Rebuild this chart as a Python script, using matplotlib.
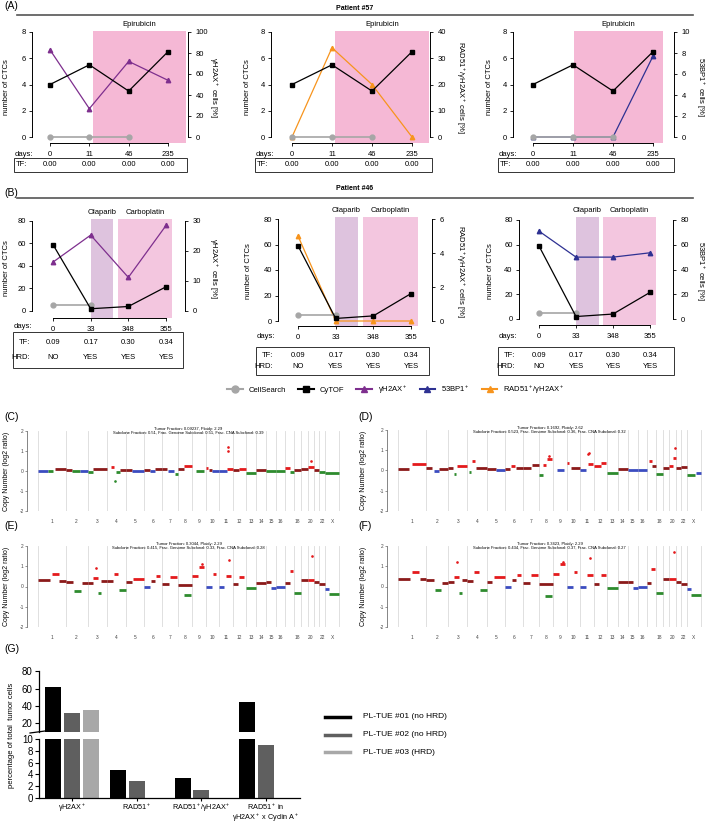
import matplotlib
matplotlib.use('Agg')
import matplotlib.pyplot as plt
from matplotlib.lines import Line2D
from matplotlib.patches import Rectangle
import numpy as np

plt.rcParams['font.family'] = ['Liberation Sans', 'DejaVu Sans']
plt.rcParams['mathtext.fontset'] = 'custom'
plt.rcParams['mathtext.rm'] = 'Liberation Sans'
plt.rcParams['mathtext.it'] = 'Liberation Sans:italic'
plt.rcParams['mathtext.bf'] = 'Liberation Sans:bold'
plt.rcParams['axes.linewidth'] = 0.7

# ---- panel A / B data (patient #57 and #46) ----
days_57 = ['0', '11', '46', '235']
ctc_57 = [4, 5.5, 3.5, 6.5]
cellsearch_57 = [0, 0, 0]
gh2ax_57 = [83, 27, 72, 54]
rad51_57 = [0, 34, 20, 0]
bp53_57 = [0, 0, 0, 7.7]
tf_57 = ['0.00', '0.00', '0.00', '0.00']

days_46 = ['0', '33', '348', '355']
ctc_46 = [59, 2, 4, 21.5]
cellsearch_46 = [5, 5]
gh2ax_46 = [16.3, 25.3, 11.2, 28.5]
rad51_46 = [5.0, 0, 0, 0]
bp53_46 = [71, 50, 50, 53.5]
tf_46 = ['0.09', '0.17', '0.30', '0.34']
hrd_46 = ['NO', 'YES', 'YES', 'YES']

# ---- copy number panels (C-F): segments (chrom, start frac, end frac, log2, state) ----
chrom_edges = [0, 83, 150, 208, 266, 320, 375, 423, 465, 506, 545, 588, 626,
               658, 688, 718, 746, 773, 793, 813, 833, 848, 866, 908]
chrom_names = ['1', '2', '3', '4', '5', '6', '7', '8', '9', '10', '11', '12',
               '13', '14', '15', '16', '', '18', '', '20', '', '22', 'X']

seg_C = [(1, 0.0, 0.35, 0.0, 'N'), (1, 0.38, 0.55, 0.0, 'L'), (1, 0.6, 1.0, 0.1, 'G'),
         (2, 0.0, 0.3, 0.05, 'G'), (2, 0.3, 0.65, 0.0, 'L'), (2, 0.65, 1.0, -0.02, 'N'),
         (3, 0.0, 0.3, -0.05, 'L'), (3, 0.3, 1.0, 0.08, 'G'),
         (4, 0.2, 0.35, 0.2, 'A'), (4, 0.45, 0.7, -0.05, 'L'), (4, 0.7, 1.0, 0.05, 'G'),
         (5, 0.0, 0.3, 0.05, 'G'), (5, 0.3, 1.0, 0.0, 'N'),
         (6, 0.0, 0.3, 0.05, 'G'), (6, 0.3, 0.6, 0.0, 'N'), (6, 0.6, 1.0, 0.08, 'G'),
         (7, 0.0, 0.3, 0.1, 'G'), (7, 0.35, 0.75, 0.0, 'N'), (7, 0.8, 1.0, -0.15, 'L'),
         (8, 0.0, 0.4, 0.1, 'G'), (8, 0.45, 1.0, 0.25, 'A'),
         (9, 0.3, 0.9, -0.02, 'L'),
         (10, 0.0, 0.2, 0.15, 'A'), (10, 0.25, 0.5, 0.05, 'G'), (10, 0.5, 1.0, 0.0, 'N'),
         (11, 0.0, 0.6, 0.0, 'N'), (11, 0.6, 1.0, 0.12, 'A'),
         (12, 0.0, 0.5, 0.05, 'G'), (12, 0.5, 1.0, 0.12, 'A'),
         (13, 0.0, 1.0, -0.08, 'L'), (14, 0.0, 1.0, 0.03, 'G'),
         (15, 0.0, 1.0, -0.02, 'L'), (16, 0.0, 1.0, -0.02, 'L'),
         (17, 0.0, 0.5, 0.15, 'A'), (17, 0.5, 1.0, -0.05, 'L'),
         (18, 0.0, 1.0, 0.05, 'G'), (19, 0.0, 1.0, 0.08, 'G'),
         (20, 0.0, 1.0, 0.2, 'A'), (21, 0.0, 1.0, 0.05, 'G'),
         (22, 0.0, 1.0, -0.05, 'L'), (23, 0.0, 1.0, -0.1, 'L')]
out_C = [(11, 0.65, 1.0, 'A'), (11, 0.66, 1.2, 'A'), (20, 0.6, 0.5, 'A'), (4, 0.4, -0.5, 'L')]

seg_D = [(1, 0.0, 0.4, 0.08, 'G'), (1, 0.5, 1.0, 0.33, 'A'),
         (2, 0.0, 0.3, 0.1, 'G'), (2, 0.35, 0.6, -0.02, 'N'), (2, 0.6, 1.0, 0.08, 'G'),
         (3, 0.0, 0.25, 0.1, 'G'), (3, 0.3, 0.4, -0.15, 'L'), (3, 0.45, 1.0, 0.2, 'A'),
         (4, 0.1, 0.2, -0.05, 'L'), (4, 0.25, 0.4, 0.45, 'A'), (4, 0.45, 1.0, 0.1, 'G'),
         (5, 0.0, 0.5, 0.05, 'G'), (5, 0.5, 1.0, 0.0, 'N'),
         (6, 0.0, 0.3, 0.05, 'G'), (6, 0.35, 0.55, 0.2, 'A'), (6, 0.6, 1.0, 0.1, 'G'),
         (7, 0.0, 0.5, 0.1, 'G'), (7, 0.55, 1.0, 0.25, 'G'),
         (8, 0.0, 0.25, -0.2, 'L'), (8, 0.3, 0.5, 0.25, 'A'), (8, 0.55, 0.9, 0.55, 'A'),
         (9, 0.3, 0.8, 0.0, 'N'),
         (10, 0.0, 0.2, 0.35, 'A'), (10, 0.3, 1.0, 0.1, 'G'),
         (11, 0.0, 0.45, 0.0, 'N'), (11, 0.55, 0.95, 0.3, 'A'),
         (12, 0.0, 0.5, 0.2, 'A'), (12, 0.55, 0.95, 0.35, 'A'),
         (13, 0.0, 1.0, -0.1, 'L'), (14, 0.0, 1.0, 0.05, 'G'),
         (15, 0.0, 1.0, 0.0, 'N'), (16, 0.0, 1.0, 0.0, 'N'),
         (17, 0.2, 0.6, 0.45, 'A'), (17, 0.6, 1.0, 0.2, 'G'),
         (18, 0.0, 1.0, -0.15, 'L'), (19, 0.0, 1.0, 0.1, 'G'),
         (20, 0.0, 0.6, 0.2, 'A'), (20, 0.6, 1.0, 0.6, 'A'),
         (21, 0.0, 1.0, 0.1, 'G'), (22, 0.0, 1.0, 0.15, 'G'),
         (23, 0.0, 0.6, -0.2, 'L'), (23, 0.65, 1.0, -0.1, 'N')]
out_D = [(11, 0.6, 0.8, 'A'), (11, 0.65, 0.85, 'A'), (20, 0.8, 1.1, 'A'), (8, 0.7, 0.7, 'A')]

seg_E = [(1, 0.0, 0.45, 0.3, 'G'), (1, 0.5, 0.75, 0.6, 'A'), (1, 0.78, 1.0, 0.28, 'G'),
         (2, 0.0, 0.35, 0.22, 'G'), (2, 0.4, 0.7, -0.2, 'L'), (2, 0.72, 1.0, 0.15, 'G'),
         (3, 0.0, 0.3, 0.15, 'G'), (3, 0.3, 0.55, 0.4, 'A'), (3, 0.55, 0.7, -0.3, 'L'), (3, 0.7, 1.0, 0.25, 'G'),
         (4, 0.0, 0.3, 0.25, 'G'), (4, 0.35, 0.6, 0.6, 'A'), (4, 0.65, 1.0, -0.15, 'L'),
         (5, 0.0, 0.3, 0.2, 'G'), (5, 0.4, 1.0, 0.38, 'A'),
         (6, 0.0, 0.35, -0.03, 'N'), (6, 0.4, 0.6, 0.25, 'G'), (6, 0.65, 0.9, 0.5, 'A'),
         (7, 0.0, 0.4, 0.12, 'G'), (7, 0.5, 0.9, 0.48, 'A'),
         (8, 0.0, 1.0, 0.08, 'G'), (8, 0.4, 0.9, -0.4, 'L'),
         (9, 0.0, 0.4, 0.5, 'A'), (9, 0.5, 0.9, 0.95, 'A'),
         (10, 0.0, 0.5, 0.0, 'N'), (10, 0.55, 0.8, 0.6, 'A'),
         (11, 0.0, 0.4, 0.0, 'N'), (11, 0.5, 0.9, 0.5, 'A'),
         (12, 0.0, 0.4, 0.1, 'G'), (12, 0.5, 0.9, 0.45, 'A'),
         (13, 0.0, 1.0, -0.05, 'L'), (14, 0.0, 1.0, 0.15, 'G'),
         (15, 0.0, 0.5, 0.2, 'G'), (15, 0.5, 1.0, -0.05, 'N'), (16, 0.0, 1.0, 0.0, 'N'),
         (17, 0.0, 0.5, 0.15, 'G'), (17, 0.5, 0.9, 0.75, 'A'),
         (18, 0.0, 1.0, -0.3, 'L'), (19, 0.0, 1.0, 0.3, 'G'),
         (20, 0.0, 1.0, 0.3, 'A'), (21, 0.0, 1.0, 0.2, 'G'), (22, 0.0, 1.0, 0.1, 'G'),
         (23, 0.0, 0.3, -0.1, 'N'), (23, 0.3, 1.0, -0.35, 'L')]
out_E = [(3, 0.45, 0.9, 'A'), (11, 0.7, 1.3, 'A'), (20, 0.7, 1.5, 'A'), (9, 0.7, 1.1, 'A')]

seg_F = [(1, 0.0, 0.45, 0.35, 'G'), (1, 0.5, 0.75, 0.7, 'A'), (1, 0.78, 1.0, 0.35, 'G'),
         (2, 0.0, 0.35, 0.3, 'G'), (2, 0.4, 0.7, -0.15, 'L'), (2, 0.72, 1.0, 0.15, 'G'),
         (3, 0.0, 0.3, 0.2, 'G'), (3, 0.3, 0.55, 0.45, 'A'), (3, 0.55, 0.7, -0.3, 'L'), (3, 0.7, 1.0, 0.3, 'G'),
         (4, 0.0, 0.3, 0.25, 'G'), (4, 0.35, 0.6, 0.7, 'A'), (4, 0.65, 1.0, -0.15, 'L'),
         (5, 0.0, 0.3, 0.2, 'G'), (5, 0.4, 1.0, 0.45, 'A'),
         (6, 0.0, 0.35, -0.03, 'N'), (6, 0.4, 0.6, 0.3, 'G'), (6, 0.65, 0.9, 0.55, 'A'),
         (7, 0.0, 0.4, 0.15, 'G'), (7, 0.5, 0.9, 0.55, 'A'),
         (8, 0.0, 1.0, 0.1, 'G'), (8, 0.4, 0.9, -0.45, 'L'),
         (9, 0.0, 0.4, 0.6, 'A'), (9, 0.5, 0.9, 1.1, 'A'),
         (10, 0.0, 0.5, 0.0, 'N'), (10, 0.55, 0.8, 0.7, 'A'),
         (11, 0.0, 0.4, 0.0, 'N'), (11, 0.5, 0.9, 0.55, 'A'),
         (12, 0.0, 0.4, 0.1, 'G'), (12, 0.5, 0.9, 0.55, 'A'),
         (13, 0.0, 1.0, -0.05, 'L'), (14, 0.0, 1.0, 0.2, 'G'),
         (15, 0.0, 0.5, 0.2, 'G'), (15, 0.5, 1.0, -0.05, 'N'), (16, 0.0, 1.0, 0.0, 'N'),
         (17, 0.0, 0.5, 0.15, 'G'), (17, 0.5, 0.9, 0.85, 'A'),
         (18, 0.0, 1.0, -0.3, 'L'), (19, 0.0, 1.0, 0.35, 'G'),
         (20, 0.0, 1.0, 0.35, 'A'), (21, 0.0, 1.0, 0.2, 'G'), (22, 0.0, 1.0, 0.1, 'G'),
         (23, 0.0, 0.3, -0.1, 'N'), (23, 0.3, 1.0, -0.4, 'L')]
out_F = [(3, 0.45, 1.2, 'A'), (11, 0.7, 1.4, 'A'), (20, 0.7, 1.7, 'A'), (9, 0.7, 1.2, 'A')]

# ---- panel G data ----
g_cats = ['γH2AX$^+$', 'RAD51$^+$', 'RAD51$^+$/γH2AX$^+$', 'RAD51$^+$ in\nγH2AX$^+$ x Cyclin A$^+$']
g_tue01 = [61.5, 4.7, 3.4, 44.5]
g_tue02 = [31.5, 2.9, 1.4, 9.0]
g_tue03 = [35.5, np.nan, np.nan, np.nan]
g_labels = ['PL-TUE #01 (no HRD)', 'PL-TUE #02 (no HRD)', 'PL-TUE #03 (HRD)']

PURPLE = '#7E2F8E'
ORANGE = '#F7941D'
BLUE = '#2E3192'
GREY = '#A6A6A6'
EPI = '#F5B8D5'
OLA = '#DEC3DE'
CARBO = '#F3C6DF'
FS = 5.5

W, H = 709, 823
fig = plt.figure(figsize=(W / 100, H / 100), dpi=100)


def box(x0, y0, x1, y1):
    return fig.add_axes([x0 / W, 1 - y1 / H, (x1 - x0) / W, (y1 - y0) / H])


def ftext(x, y, s, **kw):
    kw.setdefault('fontsize', FS)
    kw.setdefault('ha', 'center')
    kw.setdefault('va', 'center')
    fig.text(x / W, 1 - y / H, s, **kw)


def fline(x0, x1, y0, y1, **kw):
    fig.add_artist(Line2D([x0 / W, x1 / W], [1 - y0 / H, 1 - y1 / H], **kw))


def timeline(L, R, t0, t3, y_top, y_zero, y_axis, y_box, lmax, lticks, rmax, rticks,
             days, ctc, cs, ser, color, rlabel, spans, rlab_x, llab_x):
    s = (t3 - t0) / 3.0
    k = (y_zero - y_top) / lmax
    lo = -(y_axis - y_zero) / k
    hi = (y_zero - y_box) / k
    ax = box(L, y_box, R, y_axis)
    ax2 = ax.twinx()
    ax.set_zorder(ax2.get_zorder() + 1)
    ax.patch.set_visible(False)
    xlim = ((L - t0) / s, (R - t0) / s)
    ax.set_xlim(xlim)
    ax2.set_xlim(xlim)
    ax.set_ylim(lo, hi)
    ax2.set_ylim(lo * rmax / lmax, hi * rmax / lmax)
    for a, b, c in spans:
        ax2.axvspan((a - t0) / s, (b - t0) / s, color=c, lw=0, zorder=0)
    x = np.arange(len(ser))
    ax2.plot(x, ser, color=color, marker='^', ms=3.2, lw=0.9, zorder=3)
    ax.plot(x[:len(cs)], cs, color=GREY, marker='o', ms=3.5, lw=1.2)
    ax.plot(x, ctc, color='black', marker='s', ms=3.3, lw=0.9)
    for sp in ['top', 'right']:
        ax.spines[sp].set_visible(False)
    for sp in ['top', 'left', 'bottom']:
        ax2.spines[sp].set_visible(False)
    ax.spines['left'].set_bounds(0, lmax)
    ax.spines['bottom'].set_bounds(0, 3)
    ax2.spines['right'].set_bounds(0, rmax)
    ax.set_yticks(lticks)
    ax2.set_yticks(rticks)
    ax.set_xticks(x)
    ax.set_xticklabels(days)
    ax.tick_params(labelsize=FS, length=2.5, width=0.6, pad=2)
    ax.tick_params(axis='x', pad=3)
    ax2.tick_params(labelsize=FS, length=2.5, width=0.6, pad=3)
    ax.set_ylabel('number of CTCs', fontsize=FS)
    ax.yaxis.set_label_coords((llab_x - L) / (R - L), 0.5)
    ax2.set_ylabel(rlabel, fontsize=FS, rotation=270, va='center')
    ax2.yaxis.set_label_coords((rlab_x - L) / (R - L), 0.5)
    return [t0 + i * s for i in range(4)]


def table_box(x0, x1, y0, y1):
    fig.add_artist(Rectangle((x0 / W, 1 - y1 / H), (x1 - x0) / W, (y1 - y0) / H,
                             transform=fig.transFigure, fill=False, lw=0.7, ec='#333333'))


# ---------------- headers ----------------
ftext(4, 6, '(A)', fontsize=7.5, ha='left')
ftext(355, 8, 'Patient #57', fontsize=5, fontweight='bold')
fline(17, 693, 15, 15, color='#555555', lw=1.2)
ftext(4, 193, '(B)', fontsize=7.5, ha='left')
ftext(355, 188, 'Patient #46', fontsize=5, fontweight='bold')
fline(17, 693, 198, 198, color='#555555', lw=1.2)

# ---------------- panel A ----------------
panelsA = [(32, 188, 50, 168, gh2ax_57, PURPLE, 'γH2AX$^+$ cells [%]', 100, [0, 20, 40, 60, 80, 100],
            (93, 186), 213, 10, 14, 187),
           (271, 430, 292, 412, rad51_57, ORANGE, 'RAD51$^+$/γH2AX$^+$ cells [%]', 40, [0, 10, 20, 30, 40],
            (335, 429), 460, 251, 255, 432),
           (513, 674, 533, 653, bp53_57, BLUE, '53BP1$^+$ cells [%]', 10, [0, 2, 4, 6, 8, 10],
            (574, 663), 700, 493, 498, 674)]
for L, R, t0, t3, ser, col, rlab, rmax, rt, (p0, p1), rx, lx, b0, b1 in panelsA:
    tx = timeline(L, R, t0, t3, 32, 137, 143, 31, 8, [0, 2, 4, 6, 8], rmax, rt,
                  days_57, ctc_57, cellsearch_57, ser, col, rlab, [(p0, p1, EPI)], rx, lx)
    ftext((p0 + p1) / 2, 25, 'Epirubicin')
    ftext(b0 + 10, 154, 'days:')
    table_box(b0, b1, 158, 172)
    ftext(b0 + 7, 165, 'TF:')
    for xx, v in zip(tx, tf_57):
        ftext(xx, 165, v)

# ---------------- panel B ----------------
panelsB = [(32, 185, 53, 166, 221, 311, 318, 219, gh2ax_46, PURPLE, 'γH2AX$^+$ cells [%]', 30, [0, 10, 20, 30],
            (91, 113), (118, 172), 213, 10, 13, 183, 327, 332, 368),
           (278, 432, 298, 411, 219, 321, 326, 217, rad51_46, ORANGE, 'RAD51$^+$/γH2AX$^+$ cells [%]', 6, [0, 2, 4, 6],
            (335, 358), (363, 418), 460, 252, 256, 429, 337, 347, 375),
           (519, 673, 539, 650, 220, 319, 325, 217, bp53_46, BLUE, '53BP1$^+$ cells [%]', 80, [0, 20, 40, 60, 80],
            (576, 599), (603, 656), 700, 494, 498, 674, 336, 347, 375)]
for (L, R, t0, t3, ytop, yzero, yax, ybox, ser, col, rlab, rmax, rt, ola, carbo, rx, lx,
     b0, b1, yd, by0, by1) in panelsB:
    tx = timeline(L, R, t0, t3, ytop, yzero, yax, ybox, 80, [0, 20, 40, 60, 80], rmax, rt,
                  days_46, ctc_46, cellsearch_46, ser, col, rlab,
                  [(ola[0], ola[1], OLA), (carbo[0], carbo[1], CARBO)], rx, lx)
    ftext((ola[0] + ola[1]) / 2, ybox - 6, 'Olaparib')
    ftext((carbo[0] + carbo[1]) / 2, ybox - 6, 'Carboplatin')
    ftext(b0 + 10, yd, 'days:')
    table_box(b0, b1, by0, by1)
    ytf = by0 + (by1 - by0) * 0.3
    yhr = by0 + (by1 - by0) * 0.7
    ftext(b0 + 17, ytf, 'TF:', ha='right')
    ftext(b0 + 17, yhr, 'HRD:', ha='right')
    for xx, v, h in zip(tx, tf_46, hrd_46):
        ftext(xx, ytf, v)
        ftext(xx, yhr, h)

# legend for A/B
handles = [Line2D([], [], color=GREY, marker='o', ms=5, lw=1.5),
           Line2D([], [], color='black', marker='s', ms=5, lw=1.5),
           Line2D([], [], color=PURPLE, marker='^', ms=5, lw=1.5),
           Line2D([], [], color=BLUE, marker='^', ms=5, lw=1.5),
           Line2D([], [], color=ORANGE, marker='^', ms=5, lw=1.5)]
labels = ['CellSearch', 'CyTOF', 'γH2AX$^+$', '53BP1$^+$', 'RAD51$^+$/γH2AX$^+$']
fig.legend(handles, labels, loc='center', bbox_to_anchor=(396 / W, 1 - 390 / H), ncol=5,
           frameon=False, fontsize=FS, handlelength=2.0, columnspacing=1.6, handletextpad=0.8)

# ---------------- panels C-F ----------------
STATE_COL = {'N': '#3B4CC0', 'G': '#8B1A1A', 'A': '#E41A1C', 'L': '#2E8B2E'}


def cna(x0, x1, y2, ym2, segs, outs, t1, t2, lab_x):
    ax = box(x0, y2, x1, ym2)
    ax.set_ylim(-2, 2)
    ax.set_xlim(-3, chrom_edges[-1] + 3)
    for e in chrom_edges:
        ax.axvline(e, color='#DADADA', lw=0.6, zorder=0)
    for c, a, b, v, st in segs:
        lo = chrom_edges[c - 1]
        w = chrom_edges[c] - lo
        ax.hlines(v, lo + a * w, lo + b * w, color=STATE_COL[st], lw=2.0)
    for c, a, v, st in outs:
        lo = chrom_edges[c - 1]
        w = chrom_edges[c] - lo
        ax.plot(lo + a * w, v, 'o', ms=0.9, color=STATE_COL[st])
    for sp in ['top', 'right', 'bottom']:
        ax.spines[sp].set_visible(False)
    ax.spines['left'].set_position(('outward', 7))
    ax.spines['left'].set_linewidth(0.5)
    ax.spines['left'].set_color('#555555')
    ax.set_yticks([-2, -1, 0, 1, 2])
    ax.set_yticklabels(['-2', '-1', '0', '1', '2'])
    centers = [(chrom_edges[i] + chrom_edges[i + 1]) / 2 for i in range(len(chrom_names))]
    ax.set_xticks(centers)
    ax.set_xticklabels(chrom_names)
    ax.tick_params(axis='y', labelsize=3.5, length=1.5, width=0.4, pad=1, colors='#444444')
    ax.tick_params(axis='x', labelsize=3.5, length=0, pad=6, colors='#444444')
    ax.set_ylabel('Copy Number (log2 ratio)', fontsize=5)
    ax.yaxis.set_label_coords((lab_x - x0) / (x1 - x0), 0.5)
    ax.text(0.5, 1.0, t1 + '\n' + t2, transform=ax.transAxes, ha='center', va='center',
            fontsize=3, linespacing=1.0)


ftext(4, 417, '(C)', fontsize=7.5, ha='left')
ftext(358, 417, '(D)', fontsize=7.5, ha='left')
ftext(4, 526, '(E)', fontsize=7.5, ha='left')
ftext(358, 526, '(F)', fontsize=7.5, ha='left')
cna(37, 340, 431, 511, seg_C, out_C, 'Tumor Fraction: 0.09237, Ploidy: 2.29',
    'Subclone Fraction: 0.51, Frac. Genome Subclonal: 0.51, Frac. CNA Subclonal: 0.39', 10)
cna(397, 702, 430, 511, seg_D, out_D, 'Tumor Fraction: 0.1692, Ploidy: 2.62',
    'Subclone Fraction: 0.523, Frac. Genome Subclonal: 0.36, Frac. CNA Subclonal: 0.32', 367)
cna(37, 340, 546, 627, seg_E, out_E, 'Tumor Fraction: 0.3044, Ploidy: 2.29',
    'Subclone Fraction: 0.415, Frac. Genome Subclonal: 0.33, Frac. CNA Subclonal: 0.28', 10)
cna(397, 702, 546, 627, seg_F, out_F, 'Tumor Fraction: 0.3423, Ploidy: 2.29',
    'Subclone Fraction: 0.434, Frac. Genome Subclonal: 0.37, Frac. CNA Subclonal: 0.27', 367)

# ---------------- panel G ----------------
ftext(4, 649, '(G)', fontsize=7.5, ha='left')
gx = np.arange(len(g_cats))
xl = ((39 - 72) / 64.7, (300 - 72) / 64.7)
k_up = (723 - 671) / 60.0
axu = box(39, 666, 300, 732)
axl = box(39, 739, 300, 798)
axu.set_ylim(10, 10 + (732 - 666) / k_up)
axl.set_ylim(0, 10)
bar_cols = ['#000000', '#5F5F5F', '#A8A8A8']
for ax in (axu, axl):
    ax.set_xlim(xl)
    for i, (vals, c) in enumerate(zip([g_tue01, g_tue02, g_tue03], bar_cols)):
        ax.bar(gx + (i - 1) * 0.29, vals, width=0.25, color=c)
    ax.spines['top'].set_visible(False)
    ax.spines['right'].set_visible(False)
    ax.tick_params(labelsize=7, length=3, width=0.8, pad=1.5)
    ax.spines['left'].set_linewidth(0.9)
axu.spines['bottom'].set_visible(False)
axu.set_xticks([])
axu.set_yticks([20, 40, 60, 80])
axu.spines['left'].set_bounds(10, 80)
axl.set_yticks([0, 2, 4, 6, 8, 10])
axl.spines['bottom'].set_linewidth(0.9)
axl.set_xticks(gx)
axl.set_xticklabels(g_cats, fontsize=5.2, va='top', linespacing=0.95)
axl.tick_params(axis='x', labelsize=5.2, length=2, pad=1)
fline(30, 45, 733, 731, color='black', lw=0.9)
ftext(12, 735, 'percentage of total  tumor cells', rotation=90)
for j, (lab, c) in enumerate(zip(g_labels, bar_cols)):
    yy = 717 + j * 17.5
    fline(325, 350, yy, yy, color=c, lw=2.5)
    ftext(363, yy, lab, fontsize=6, ha='left')

fig.savefig('out.png', dpi=100)
